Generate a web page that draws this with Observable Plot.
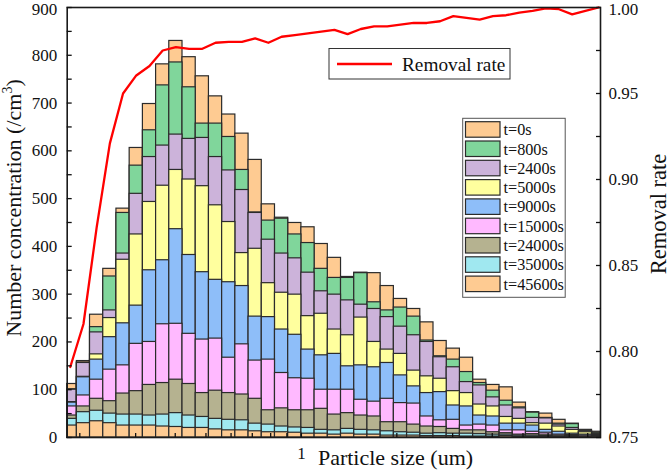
<!DOCTYPE html>
<html>
<head>
<meta charset="utf-8">
<script src="https://cdn.jsdelivr.net/npm/d3@7"></script>
<script src="https://cdn.jsdelivr.net/npm/@observablehq/plot@0.6"></script>
<style>
  body { margin: 0; background: #fff; }
  #chart { width: 671px; height: 476px; }
  #chart svg, #chart svg text { font-family: "Liberation Serif", "Times New Roman", serif; }
</style>
</head>
<body>
<div id="chart"></div>
<script>
// Particle size bin centres (um), log-spaced channels
const sizes = [0.1866, 0.2054, 0.2260, 0.2488, 0.2738, 0.3014, 0.3318, 0.3652, 0.4019, 0.4424,
  0.4870, 0.5360, 0.5900, 0.6494, 0.7148, 0.7868, 0.8660, 0.9532, 1.0491, 1.1548,
  1.2711, 1.3991, 1.5400, 1.6950, 1.8657, 2.0536, 2.2604, 2.4880, 2.7385, 3.0142,
  3.3177, 3.6518, 4.0195, 4.4242, 4.8697, 5.3600, 5.8998, 6.4938, 7.1477, 7.8675, 8.6597];

// Number concentration (/cm3) per time
const t0s     = [112,160,257,353,479,606,698,781,830,796,756,714,676,636,581,488,460,449,440,405,376,336,345,344,317,290,269,241,202,186,167,121,110,105,73,53,50,37,29,16,12];
const t800s   = [101,157,231,337,470,569,643,737,785,733,657,657,629,560,471,454,458,425,407,353,334,334,344,283,266,272,253,203,170,163,137,114,98,77,63,52,41,29,28,14,10];
const t2400s  = [100,156,220,266,385,510,587,611,634,625,627,587,559,518,470,414,385,375,345,306,299,287,278,269,252,232,214,200,168,147,116,109,84,67,61,41,40,27,20,13,8];
const t5000s  = [74,127,174,250,372,425,493,527,560,540,526,486,451,386,395,323,303,299,254,259,226,214,251,200,184,175,140,128,123,97,93,69,65,43,39,30,29,23,16,11,7];
const t9000s  = [73,126,163,210,239,276,350,371,436,382,346,330,325,317,253,252,226,215,184,172,175,149,151,147,156,130,107,93,95,67,65,46,44,29,29,25,16,12,8,6,5];
const t15000s = [65,88,121,142,151,196,200,237,238,217,205,207,167,195,161,163,135,124,123,100,100,100,79,75,81,72,71,44,36,37,25,27,25,15,15,12,10,6,5,4,3];
const t24000s = [46,65,81,76,92,97,110,114,121,112,93,98,93,90,81,57,61,57,57,60,48,51,46,44,32,32,27,23,22,18,15,15,11,9,6,7,6,4,3,2,2];
const t35000s = [39,53,56,50,48,48,46,48,51,46,43,39,37,36,29,27,23,21,20,16,15,18,16,15,13,11,10,8,9,8,8,7,6,6,4,4,3,2,2,1,1];
const t45600s = [25,30,34,30,25,25,25,23,22,20,20,17,15,15,13,11,11,10,8,8,6,8,6,6,4,4,4,3,3,3,2,2,2,3,2,2,1.5,1,1,0.5,0.5];

// Removal rate per bin
const removalRate = [0.791,0.816,0.872,0.921,0.950,0.9605,0.966,0.975,0.977,0.976,
  0.976,0.9795,0.980,0.980,0.982,0.9795,0.983,0.984,0.985,0.986,
  0.987,0.9845,0.9875,0.989,0.989,0.990,0.991,0.991,0.992,0.995,
  0.994,0.993,0.995,0.9955,0.997,0.998,0.9995,0.999,0.996,0.998,1.000];

const seriesNames = ["t=0s","t=800s","t=2400s","t=5000s","t=9000s","t=15000s","t=24000s","t=35000s","t=45600s"];
const seriesValues = [t0s,t800s,t2400s,t5000s,t9000s,t15000s,t24000s,t35000s,t45600s];
const seriesColors = ["#FECB92","#80D69B","#CCB3DA","#FFFF9E","#8EBEF9","#FFB9FF","#B5B290","#A0E8F0","#FECB92"];

const leftTicks = [0,100,200,300,400,500,600,700,800];
const leftTopTick = [900];
const leftMinorTicks = [50,150,250,350,450,550,650,750,850];
const rateTicks = [0.75,0.80,0.85,0.90,0.95];
const rateTopTick = [1.00];
const rateMinorTicks = [0.775,0.825,0.875,0.925,0.975];
const xMinorTicks = [0.2,0.3,0.4,0.5,0.6,0.7,0.8,0.9,1,2,3,4,5,6,7,8];
const xLabelTicks = [1];

const xDomain = [0.1825, 8.78];
const yDomain = [0, 900];
const rateDomain = [0.75, 1.00];

// map removal rate onto the concentration axis (secondary axis)
const rateToY = r => (r - rateDomain[0]) / (rateDomain[1] - rateDomain[0]) * (yDomain[1] - yDomain[0]) + yDomain[0];
const yToRate = y => rateDomain[0] + (y - yDomain[0]) / (yDomain[1] - yDomain[0]) * (rateDomain[1] - rateDomain[0]);

const half = Math.sqrt(sizes[1] / sizes[0]);
const bars = [];
seriesValues.forEach((vals, s) => {
  vals.forEach((v, i) => {
    bars.push({
      series: seriesNames[s],
      x1: Math.max(sizes[i] / half, xDomain[0]),
      x2: Math.min(sizes[i] * half, xDomain[1]),
      y: v
    });
  });
});
const lineData = sizes.map((s, i) => ({x: s, y: rateToY(removalRate[i])}));

const serif = "Liberation Serif, Times New Roman, serif";
const txt = {fontFamily: serif, fontSize: 17, fill: "#111"};

const plot = Plot.plot({
  width: 671,
  height: 476,
  marginLeft: 66.7,
  marginRight: 71,
  marginTop: 7,
  marginBottom: 39,
  style: {fontFamily: serif, fontSize: "17px", color: "#111", background: "#fff", overflow: "visible"},
  x: {type: "log", domain: xDomain, axis: null},
  y: {domain: yDomain, axis: null},
  marks: [
    Plot.rect(bars, {x1: "x1", x2: "x2", y1: 0, y2: "y", fill: (d, i) => seriesColors[Math.floor(i / sizes.length)], stroke: "#2b2b2b", strokeWidth: 1.2}),
    Plot.line(lineData, {x: "x", y: "y", stroke: "#ff0000", strokeWidth: 2.3}),
    Plot.frame({stroke: "#1a1a1a", strokeWidth: 1.6}),
    Plot.axisY(leftTicks.concat(leftTopTick, leftMinorTicks), {anchor: "left", tickSize: -5, tickFormat: () => "", label: null, strokeWidth: 1.3}),
    Plot.axisY(leftTicks, {anchor: "left", tickSize: 0, tickPadding: 10, label: null, ...txt}),
    Plot.axisY(leftTopTick, {anchor: "left", tickSize: 0, tickPadding: 10, label: null, dy: 2, ...txt}),
    Plot.axisY(rateTicks.concat(rateTopTick, rateMinorTicks).map(rateToY), {anchor: "right", tickSize: -5, tickFormat: () => "", label: null, strokeWidth: 1.3}),
    Plot.axisY(rateTicks.map(rateToY), {anchor: "right", tickSize: 0, tickPadding: 8, tickFormat: d => yToRate(d).toFixed(2), label: null, ...txt}),
    Plot.axisY(rateTopTick.map(rateToY), {anchor: "right", tickSize: 0, tickPadding: 8, tickFormat: d => yToRate(d).toFixed(2), label: null, dy: 2, ...txt}),
    Plot.axisX(xMinorTicks, {anchor: "bottom", tickSize: -4, tickFormat: () => "", label: null, strokeWidth: 1.3}),
    Plot.axisX(xLabelTicks, {anchor: "bottom", tickSize: 0, tickPadding: 9, tickFormat: d => String(d), label: null, ...txt})
  ]
});

document.getElementById("chart").appendChild(plot);

const svg = d3.select(plot);
svg.attr("font-family", serif);

// Axis titles
const yTitle = svg.append("text")
  .attr("transform", "translate(20.5,208) rotate(-90)")
  .attr("text-anchor", "middle")
  .attr("font-family", serif)
  .attr("font-size", 22)
  .attr("fill", "#111");
yTitle.append("tspan").text("Number concentration (/cm");
yTitle.append("tspan").attr("font-size", 14).attr("dy", -9).text("3");
yTitle.append("tspan").attr("dy", 9).text(")");

svg.append("text")
  .attr("transform", "translate(665.5,214) rotate(-90)")
  .attr("text-anchor", "middle")
  .attr("font-family", serif)
  .attr("font-size", 22.5)
  .attr("fill", "#111")
  .text("Removal rate");

svg.append("text")
  .attr("x", 395.5)
  .attr("y", 465)
  .attr("text-anchor", "middle")
  .attr("font-family", serif)
  .attr("font-size", 22)
  .attr("fill", "#111")
  .text("Particle size (um)");

// Line legend
const lg1 = svg.append("g").attr("text-anchor", "start");
lg1.append("rect").attr("x", 329).attr("y", 48.5).attr("width", 181).attr("height", 30.5)
  .attr("fill", "#fff").attr("stroke", "#333").attr("stroke-width", 1);
lg1.append("line").attr("x1", 337).attr("x2", 392).attr("y1", 64).attr("y2", 64)
  .attr("stroke", "#ff0000").attr("stroke-width", 2.3);
lg1.append("text").attr("x", 402).attr("y", 70.5).attr("text-anchor", "start")
  .attr("font-family", serif).attr("font-size", 19.3)
  .attr("fill", "#111").text("Removal rate");

// Bar legend
const lg2 = svg.append("g").attr("text-anchor", "start");
lg2.append("rect").attr("x", 462.7).attr("y", 118.3).attr("width", 102.5).attr("height", 179)
  .attr("fill", "#fff").attr("stroke", "#555").attr("stroke-width", 1);
seriesNames.forEach((name, i) => {
  const y0 = 121.7 + i * 19.3;
  lg2.append("rect").attr("x", 465.5).attr("y", y0).attr("width", 34.5).attr("height", 15.5)
    .attr("fill", seriesColors[i]).attr("stroke", "#2b2b2b").attr("stroke-width", 1.2);
  lg2.append("text").attr("x", 503.5).attr("y", y0 + 13.5).attr("text-anchor", "start")
    .attr("font-family", serif).attr("font-size", 16.2)
    .attr("fill", "#111").text(name);
});
</script>
</body>
</html>
